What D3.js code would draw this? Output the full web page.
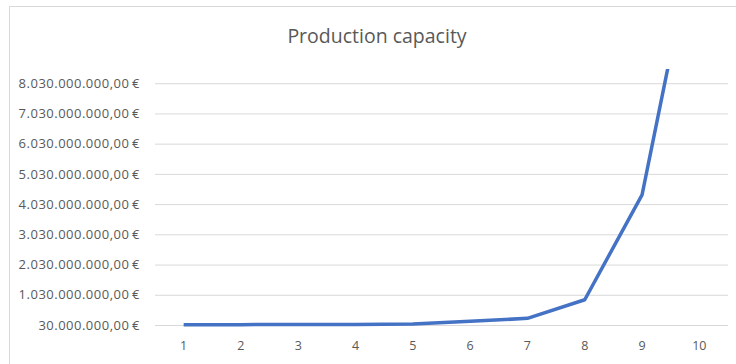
<!DOCTYPE html>
<html><head><meta charset="utf-8">
<script src="https://cdn.jsdelivr.net/npm/d3@7/dist/d3.min.js"></script>
<style>body{margin:0;background:#fff}svg{display:block}</style>
</head><body>
<script>
const title = "Production capacity";
const categories = ["1","2","3","4","5","6","7","8","9","10"];
const values = [40e6, 42e6, 44e6, 46e6, 60e6, 150e6, 250e6, 866e6, 4337e6, 13660e6];
const yTicks = [30e6, 1030e6, 2030e6, 3030e6, 4030e6, 5030e6, 6030e6, 7030e6, 8030e6];
const yMin = 30e6, yMax = 8500e6;

const W = 736, H = 364;
const m = {left:155, right:8, top:69, bottom:39};
const svg = d3.select("body").append("svg").attr("width", W).attr("height", H);
svg.append("rect").attr("x",9.5).attr("y",6.5).attr("width",W).attr("height",H)
  .attr("fill","#fff").attr("stroke","#d9d9d9");

const x = d3.scaleBand().domain(categories).range([m.left, W-m.right]);
const y = d3.scaleLinear().domain([yMin, yMax]).range([H-m.bottom, m.top]);

const fmt = v => {
  const s = d3.format(",.2f")(v).replace(/,/g,"#").replace(/\./g,",").replace(/#/g,".");
  return s + "\u2009€";
};

svg.append("text").attr("x", 377).attr("y", 43).attr("text-anchor","middle")
  .attr("font-family","Open Sans, sans-serif").attr("font-size",19.5).attr("fill","#595959").text(title);

const yAxis = svg.append("g").attr("transform",`translate(${m.left},0)`)
  .call(d3.axisLeft(y).tickValues(yTicks).tickFormat(fmt).tickSize(-(W-m.left-m.right)).tickPadding(15));
yAxis.select(".domain").remove();
yAxis.selectAll("line").attr("stroke","#d9d9d9").attr("stroke-width",1);
yAxis.selectAll("text").attr("font-family","Open Sans, sans-serif").attr("font-size",13)
  .attr("letter-spacing",0.5).attr("fill","#595959");

const xAxis = svg.append("g").attr("transform",`translate(0,${H-m.bottom})`)
  .call(d3.axisBottom(x).tickSize(0).tickPadding(16));
xAxis.select(".domain").remove();
xAxis.selectAll("text").attr("font-family","Open Sans, sans-serif").attr("font-size",12.5).attr("fill","#595959");

svg.append("clipPath").attr("id","clip").append("rect")
  .attr("x", m.left).attr("y", m.top).attr("width", W-m.left-m.right).attr("height", H-m.top-m.bottom+5);

svg.append("path").datum(values.map((v,i)=>[categories[i],v]))
  .attr("clip-path","url(#clip)")
  .attr("fill","none").attr("stroke","#4472C4").attr("stroke-width",3.5)
  .attr("stroke-linejoin","round").attr("stroke-linecap","butt")
  .attr("d", d3.line().x(d=>x(d[0])+x.bandwidth()/2).y(d=>y(d[1])));
</script>
</body></html>
